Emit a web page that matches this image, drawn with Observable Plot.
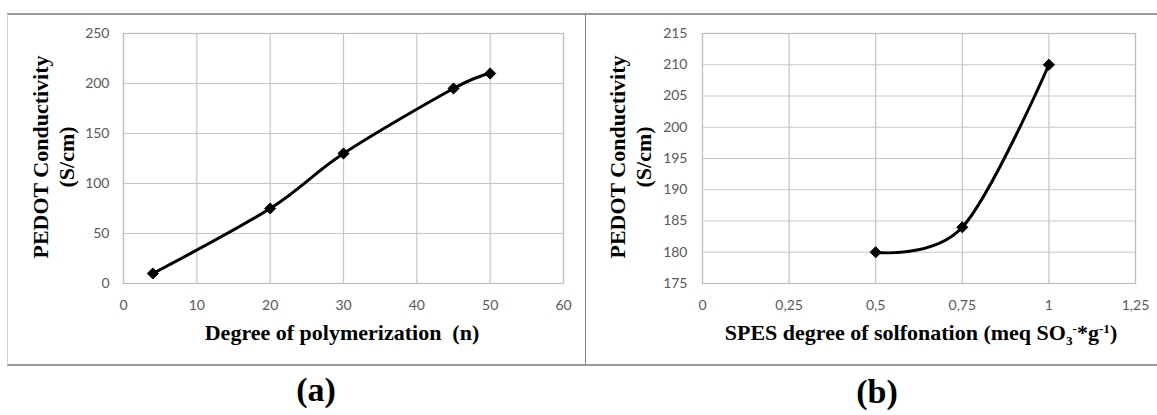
<!DOCTYPE html>
<html>
<head>
<meta charset="utf-8">
<script src="https://cdn.jsdelivr.net/npm/d3@7"></script>
<script src="https://cdn.jsdelivr.net/npm/@observablehq/plot@0.6"></script>
<style>
  body { margin: 0; background: #fff; }
  #wrap { position: relative; width: 1157px; height: 415px; overflow: hidden; background: #fff; }
  .panel { position: absolute; top: 0; }
  .rule { position: absolute; }
  .serif { position: absolute; white-space: pre; font-family: "Liberation Serif", "Times New Roman", serif; font-weight: bold; color: #000; }
  .ytitle { font-size: 22px; line-height: 26px; text-align: center; transform: translate(-50%, -50%) rotate(-90deg); }
  .xtitle { font-size: 22px; line-height: 22px; transform: translateX(-50%); }
  .tag { font-size: 34px; line-height: 34px; transform: translateX(-50%); }
  .sub { position: relative; top: 0.35em; font-size: 0.6em; }
  .sup { position: relative; top: -0.55em; font-size: 0.6em; }
</style>
</head>
<body>
<div id="wrap"></div>
<script>
// ---- data ----
const polyN = [4, 20, 30, 45, 50];
const polyCond = [10, 75, 130, 195, 210];

const sulfDeg = [0.5, 0.75, 1];
const sulfCond = [180, 184, 210];

// ---- ticks ----
const xTicksA = [0, 10, 20, 30, 40, 50, 60];
const yTicksA = [0, 50, 100, 150, 200, 250];
const xTicksB = [0, 0.25, 0.5, 0.75, 1, 1.25];
const xTickLabelsB = ["0", "0,25", "0,5", "0,75", "1", "1,25"];
const yTicksB = [175, 180, 185, 190, 195, 200, 205, 210, 215];

// ---- texts ----
const yTitleLine1 = "PEDOT Conductivity";
const yTitleLine2 = "(S/cm)";
const xTitleA = "Degree of polymerization  (n)";
const tagA = "(a)";
const tagB = "(b)";

const gridColor = "#c6c6c6";

function panel({xs, ys, xTicks, yTicks, xFormat, width, marginLeft, tickPadY}) {
  const data = xs.map((v, i) => ({x: v, y: ys[i]}));
  return Plot.plot({
    width,
    height: 365,
    marginTop: 33,
    marginBottom: 82,
    marginLeft,
    marginRight: 22,
    style: {fontFamily: "Lato, 'Liberation Sans', sans-serif", fontSize: "14px", color: "#595959", background: "transparent", overflow: "visible"},
    x: {domain: [xTicks[0], xTicks[xTicks.length - 1]], ticks: xTicks, tickFormat: xFormat, tickSize: 0, tickPadding: 17, label: null},
    y: {domain: [yTicks[0], yTicks[yTicks.length - 1]], ticks: yTicks, tickSize: 0, tickPadding: tickPadY, label: null},
    marks: [
      Plot.gridX(xTicks, {stroke: gridColor, strokeOpacity: 1, strokeWidth: 1.2}),
      Plot.gridY(yTicks, {stroke: gridColor, strokeOpacity: 1, strokeWidth: 1.2}),
      Plot.frame({stroke: "#bdbdbd", strokeWidth: 1.2}),
      Plot.line(data, {x: "x", y: "y", curve: "cardinal", tension: 0, stroke: "#000", strokeWidth: 3}),
      Plot.dot(data, {x: "x", y: "y", symbol: "diamond2", r: 5, fill: "#000", stroke: "#000", strokeWidth: 1})
    ]
  });
}

const wrap = document.getElementById("wrap");

const left = panel({
  xs: polyN, ys: polyCond, xTicks: xTicksA, yTicks: yTicksA,
  xFormat: d => String(d), width: 585, marginLeft: 123, tickPadY: 14
});
left.classList.add("panel");
left.style.left = "0px";
wrap.appendChild(left);

const right = panel({
  xs: sulfDeg, ys: sulfCond, xTicks: xTicksB, yTicks: yTicksB,
  xFormat: d => xTickLabelsB[xTicksB.indexOf(d)], width: 572, marginLeft: 117, tickPadY: 15
});
right.classList.add("panel");
right.style.left = "585px";
wrap.appendChild(right);

// frame rules
function rule(l, t, w, h, c) {
  const d = document.createElement("div");
  d.className = "rule";
  Object.assign(d.style, {left: l + "px", top: t + "px", width: w + "px", height: h + "px", background: c});
  wrap.appendChild(d);
}
rule(7, 13, 1150, 2, "#9a9a9a");
rule(7, 364, 1150, 2, "#9a9a9a");
rule(7, 14, 1, 351, "#d2d2d2");
rule(585, 14, 1, 351, "#858585");

// texts
function text(cls, l, t, html) {
  const d = document.createElement("div");
  d.className = "serif " + cls;
  d.style.left = l + "px";
  d.style.top = t + "px";
  d.innerHTML = html;
  wrap.appendChild(d);
  return d;
}
text("ytitle", 54, 157, yTitleLine1 + "<br>" + yTitleLine2);
text("ytitle", 631, 157, yTitleLine1 + "<br>" + yTitleLine2);
text("xtitle", 342, 322, xTitleA);
text("xtitle", 921, 322, 'SPES degree of solfonation (meq SO<span class="sub">3</span><span class="sup">-</span>*g<span class="sup">-1</span>)');
text("tag", 316, 373, tagA);
text("tag", 877, 375, tagB);
</script>
</body>
</html>
